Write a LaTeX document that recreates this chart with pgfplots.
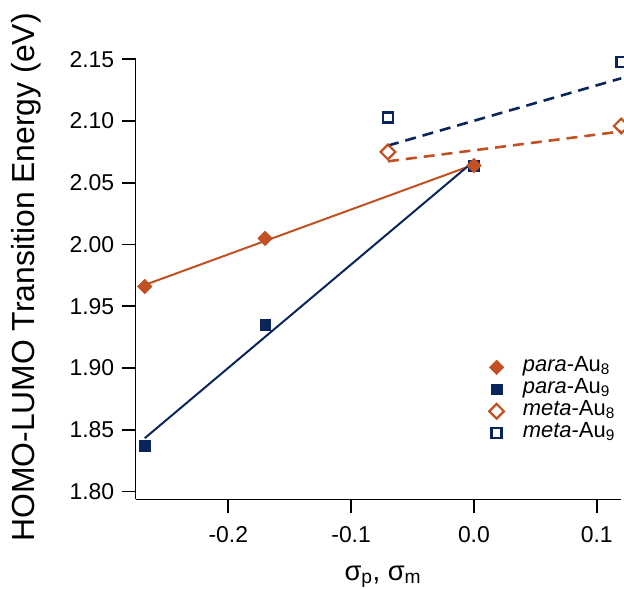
\documentclass[border=0pt]{standalone}
\usepackage{fontspec}
\setmainfont{Liberation Sans}
\usepackage{pgfplots}
\usepackage{pgfplotstable}
\pgfplotsset{compat=1.18}

\definecolor{rust}{RGB}{193,80,34}
\definecolor{navy}{RGB}{10,36,92}

% para-substituted clusters (sigma_p)
\pgfplotstableread{
x y
-0.268 1.966
-0.17 2.005
0.0 2.064
}\paraEight
\pgfplotstableread{
x y
-0.268 1.837
-0.17 1.935
0.0 2.064
}\paraNine
% meta-substituted clusters (sigma_m)
\pgfplotstableread{
x y
-0.07 2.075
0.12 2.096
}\metaEight
\pgfplotstableread{
x y
-0.07 2.103
0.12 2.148
}\metaNine
% meta fits also include the unsubstituted (H) point
\pgfplotstableread{
x y
-0.07 2.075
0.0 2.064
0.12 2.096
}\metaEightFit
\pgfplotstableread{
x y
-0.07 2.103
0.0 2.064
0.12 2.148
}\metaNineFit

\begin{document}
\begin{tikzpicture}
\begin{axis}[
    name=ax,
    scale only axis,
    width=485.6bp, height=440bp,
    xmin=-0.2754, xmax=0.12,
    ymin=1.7937, ymax=2.15,
    axis x line*=bottom, axis y line*=left,
    axis line style={line width=1.6bp},
    tick align=outside,
    major tick length=14bp,
    tick style={line width=1.6bp, black},
    xtick={-0.2,-0.1,0,0.1},
    xticklabels={-0.2,-0.1,0.0,0.1},
    ytick={1.80,1.85,1.90,1.95,2.00,2.05,2.10,2.15},
    yticklabels={1.80,1.85,1.90,1.95,2.00,2.05,2.10,2.15},
    ticklabel style={font=\fontsize{23}{27}\selectfont},
    xticklabel style={yshift=-10bp},
    yticklabel style={xshift=-4bp},
    xlabel={σ\textsubscript{p}, σ\textsubscript{m}},
    xlabel style={font=\fontsize{27.5}{32}\selectfont, at={(axis description cs:0.509,-0.176)}, anchor=center},
    ylabel={HOMO-LUMO Transition Energy (eV)},
    ylabel style={font=\fontsize{32}{36}\selectfont, at={(axis description cs:-0.2247,0.504)}, anchor=center},
    legend style={at={(axis description cs:0.7215,0.330)}, anchor=north west,
        draw=none, fill=none, font=\fontsize{22}{24}\selectfont,
        row sep=0pt, column sep=19bp,
        nodes={inner sep=0pt, text height=15bp, text depth=7bp}},
    legend cell align=left,
]
\addlegendimage{only marks, mark=square*, mark options={rotate=45}, mark size=5.2bp, rust}
\addlegendimage{only marks, mark=square*, mark size=5.3bp, navy}
\addlegendimage{only marks, mark=square, mark options={rotate=45, line width=2.2bp}, mark size=5.2bp, rust}
\addlegendimage{only marks, mark=square, mark options={line width=2.4bp}, mark size=5bp, navy}

% linear fits
\addplot[rust, line width=2bp, forget plot] table[x=x, y={create col/linear regression={y=y}}] {\paraEight};
\addplot[navy, line width=2bp, forget plot] table[x=x, y={create col/linear regression={y=y}}] {\paraNine};
\addplot[rust, line width=2.6bp, dash pattern=on 11bp off 7bp, forget plot] table[x=x, y={create col/linear regression={y=y}}] {\metaEightFit};
\addplot[navy, line width=2.6bp, dash pattern=on 11bp off 7bp, forget plot] table[x=x, y={create col/linear regression={y=y}}] {\metaNineFit};

% data points
\addplot[only marks, mark=square*, mark size=5.3bp, navy, forget plot] table {\paraNine};
\addplot[only marks, mark=square*, mark options={rotate=45}, mark size=5.2bp, rust, forget plot] table {\paraEight};
\addplot[only marks, mark=square, mark options={rotate=45, line width=2.2bp, fill=white}, mark size=5.2bp, rust, forget plot] table {\metaEight};
\addplot[only marks, mark=square, mark options={line width=2.4bp, fill=white}, mark size=5bp, navy, forget plot] table {\metaNine};

\legend{\textit{para}-Au\textsubscript{8}, \textit{para}-Au\textsubscript{9}, \textit{meta}-Au\textsubscript{8}, \textit{meta}-Au\textsubscript{9}}
\end{axis}
\pgfresetboundingbox
\path[use as bounding box] ([shift={(-135.7bp,-89.7bp)}]ax.south west) rectangle ([shift={(2.7bp,59.3bp)}]ax.north east);
\end{tikzpicture}
\end{document}
